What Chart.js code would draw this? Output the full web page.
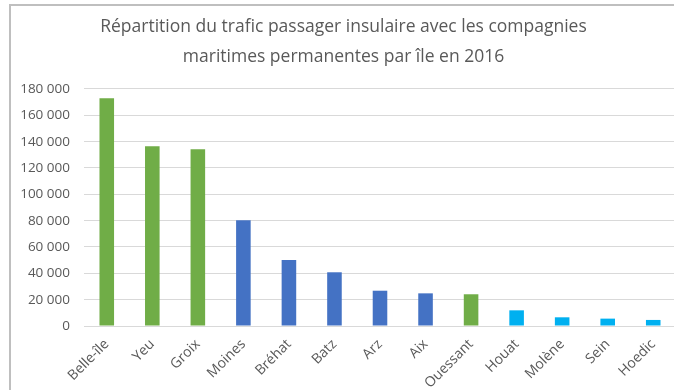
<!DOCTYPE html>
<html lang="fr">
<head>
<meta charset="utf-8">
<script src="https://cdn.jsdelivr.net/npm/chart.js@4/dist/chart.umd.min.js"></script>
<style>
  html, body { margin: 0; padding: 0; background: #fff; overflow: hidden; }
  #frame {
    position: absolute;
    left: 9px;
    top: 4px;
    border-top: 2px solid #bfbfbf;
    border-left: 2px solid #bfbfbf;
  }
  canvas { display: block; }
</style>
</head>
<body>
<div id="frame"><canvas id="trafic" width="665" height="384"></canvas></div>
<script>
// Passagers transportés par île (compagnies maritimes permanentes, 2016)
const islands = ['Belle-île', 'Yeu', 'Groix', 'Moines', 'Bréhat', 'Batz', 'Arz', 'Aix', 'Ouessant', 'Houat', 'Molène', 'Sein', 'Hoedic'];
const passengers = [173000, 136500, 134200, 80300, 50100, 40800, 26800, 24800, 24100, 11900, 6600, 5600, 4600];
const islandGroup = ['grande', 'grande', 'grande', 'moyenne', 'moyenne', 'moyenne', 'moyenne', 'moyenne', 'grande', 'petite', 'petite', 'petite', 'petite'];
const yTicks = [0, 20000, 40000, 60000, 80000, 100000, 120000, 140000, 160000, 180000];

const groupColors = { grande: '#70ad47', moyenne: '#4472c4', petite: '#00b0f0' };
const textColor = '#595959';
const font = "'Open Sans', 'Noto Sans', sans-serif";

function formatThousands(v) {
    return String(v).replace(/\B(?=(\d{3})+(?!\d))/g, ' ');
}

new Chart(document.getElementById('trafic').getContext('2d'), {
    type: 'bar',
    data: {
        labels: islands,
        datasets: [{
            data: passengers,
            backgroundColor: islandGroup.map(g => groupColors[g]),
            borderWidth: 0,
            categoryPercentage: 1,
            barPercentage: 0.32,
        }]
    },
    options: {
        responsive: false,
        animation: false,
        layout: { padding: 0 },
        scales: {
            x: {
                grid: { display: false },
                border: { display: false },
                ticks: {
                    color: textColor,
                    font: { family: font, size: 14 },
                    autoSkip: false,
                    minRotation: 45,
                    maxRotation: 45,
                    padding: 2,
                },
                afterFit: s => { s.height = 64; }
            },
            y: {
                min: 0,
                max: yTicks[yTicks.length - 1],
                afterBuildTicks: s => { s.ticks = yTicks.map(v => ({ value: v })); },
                grid: { color: '#d9d9d9', lineWidth: 1, drawTicks: false },
                border: { display: false },
                ticks: {
                    color: textColor,
                    font: { family: font, size: 13.5 },
                    padding: 14,
                    callback: v => formatThousands(v),
                },
                afterFit: s => { s.width = 73; }
            }
        },
        plugins: {
            legend: { display: false },
            tooltip: { enabled: false },
            title: {
                display: true,
                text: ['Répartition du trafic passager insulaire avec les compagnies', 'maritimes permanentes par île en 2016'],
                color: textColor,
                font: { family: font, size: 17.5, weight: 'normal', lineHeight: 1.714 },
                padding: { top: 6, bottom: 17 },
            }
        }
    }
});
</script>
</body>
</html>
